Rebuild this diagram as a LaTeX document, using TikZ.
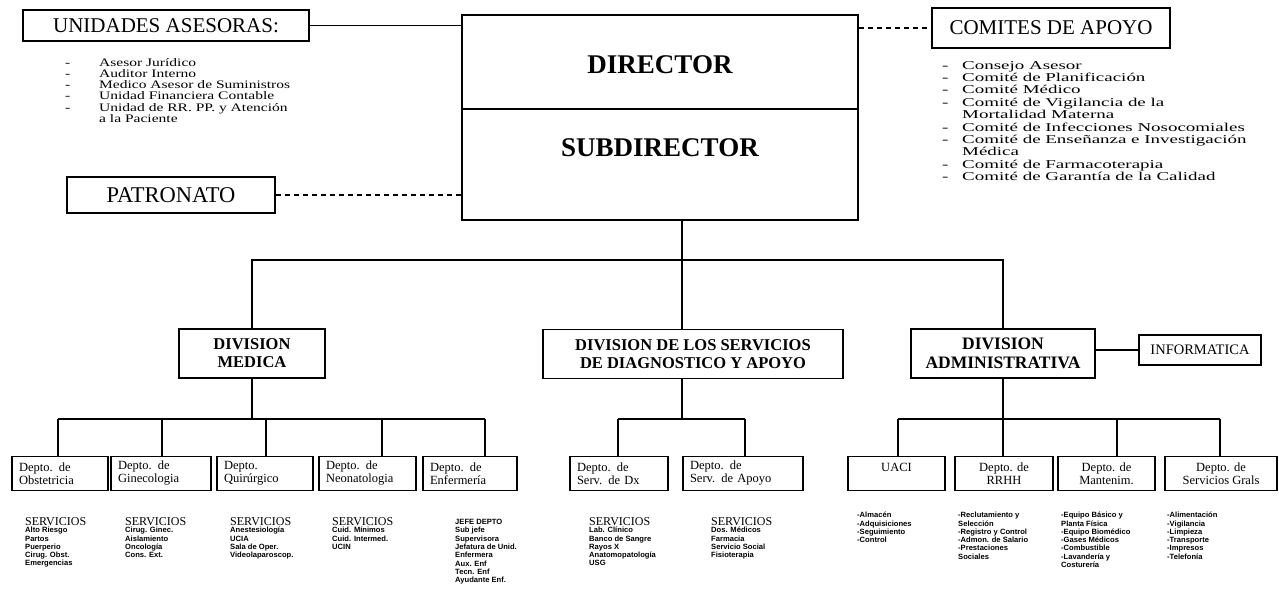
\documentclass[tikz,border=0pt]{standalone}
\usepackage{fontspec}
\setmainfont{Liberation Serif}
\newfontfamily\listA[FakeStretch=1.35]{Liberation Serif}
\newfontfamily\listB[FakeStretch=1.58]{Liberation Serif}
\newfontfamily\itemf{Liberation Sans}
\begin{document}
\begin{tikzpicture}[x=1pt,y=-1pt,
  box/.style={draw, line width=1.2pt, inner sep=0pt, align=center},
  conn/.style={line width=1.6pt},
  dconn/.style={line width=1.4pt, dash pattern=on 5pt off 4pt},
  deptL/.style={box, align=left, inner xsep=7pt, minimum height=34pt, font=\fontsize{12.5}{13}\selectfont},
  deptC/.style={box, minimum height=34pt, font=\fontsize{12.5}{13}\selectfont},
  divbox/.style={box, minimum height=49pt, font=\fontsize{16.5}{18}\selectfont\bfseries},
  topbox/.style={box, font=\fontsize{21}{21}\selectfont},
  bigl/.style={inner sep=0pt, font=\fontsize{27}{27}\selectfont\bfseries},
  svhead/.style={anchor=north west, inner sep=0pt, font=\fontsize{12}{12}\selectfont},
  svlist/.style={anchor=north west, inner sep=0pt, align=left, font=\fontsize{7.6}{8.3}\selectfont\itemf\bfseries},
  lstA/.style={anchor=north west, inner sep=0pt, align=left, font=\fontsize{11.5}{11.2}\selectfont\listA},
  lstB/.style={anchor=north west, inner sep=0pt, align=left, font=\fontsize{12}{12.4}\selectfont\listB},
]
\useasboundingbox (0,0) rectangle (1279,595);

% ---------- top ----------
\node[topbox, minimum width=286pt, minimum height=31pt] (unid) at (166,25.5) {UNIDADES ASESORAS:};
\node[topbox, minimum width=208pt, minimum height=36pt, font=\fontsize{22.5}{22.5}\selectfont] (pat) at (171,195) {PATRONATO};
\node[topbox, minimum width=238pt, minimum height=40pt] (com) at (1051,28) {COMITES DE APOYO};

\node[box, line width=1.4pt, minimum width=396pt, minimum height=94pt] (dirbox) at (660,62) {};
\node[box, line width=1.4pt, minimum width=396pt, minimum height=111pt] (subbox) at (660,164.5) {};
\node[bigl] (dirlbl) at (660,65) {DIRECTOR};
\node[bigl] (sublbl) at (660,148) {SUBDIRECTOR};

\draw[conn] (unid.east) -- (unid.east -| dirbox.west);
\draw[dconn] (pat.east) -- (pat.east -| subbox.west);
\draw[dconn] (com.west -| dirbox.east) -- (com.west);

\node[lstA] (ases) at (65,58) {%
\makebox[34pt][l]{-}Asesor Jurídico\\
\makebox[34pt][l]{-}Auditor Interno\\
\makebox[34pt][l]{-}Medico Asesor de Suministros\\
\makebox[34pt][l]{-}Unidad Financiera Contable\\
\makebox[34pt][l]{-}Unidad de RR. PP. y Atención\\
\makebox[34pt][l]{}a la Paciente};

\node[lstB] (comlist) at (942,61) {%
\makebox[20pt][l]{-}Consejo Asesor\\
\makebox[20pt][l]{-}Comité de Planificación\\
\makebox[20pt][l]{-}Comité Médico\\
\makebox[20pt][l]{-}Comité de Vigilancia de la\\
\makebox[20pt][l]{}Mortalidad Materna\\
\makebox[20pt][l]{-}Comité de Infecciones Nosocomiales\\
\makebox[20pt][l]{-}Comité de Enseñanza e Investigación\\
\makebox[20pt][l]{}Médica\\
\makebox[20pt][l]{-}Comité de Farmacoterapia\\
\makebox[20pt][l]{-}Comité de Garantía de la Calidad};

% ---------- divisions ----------
\node[divbox, minimum width=146pt] (divmed) at (252,353.5) {DIVISION\\MEDICA};
\node[divbox, minimum width=300pt] (divdiag) at (693,354) {DIVISION DE LOS SERVICIOS\\DE DIAGNOSTICO Y APOYO};
\node[divbox, minimum width=184pt, font=\fontsize{17.5}{18.5}\selectfont\bfseries] (divadm) at (1003,353.5) {DIVISION\\ADMINISTRATIVA};
\node[box, minimum width=122pt, minimum height=30pt, font=\fontsize{14.5}{14.5}\selectfont] (info) at (1200,350) {INFORMATICA};

\coordinate (busL) at (252,260);
\coordinate (busM) at (682,260);
\coordinate (busR) at (1003,260);
\draw[conn] (busL |- divmed.north) -- (busL) -- (busR) -- (busR |- divadm.north);
\draw[conn] (busM |- subbox.south) -- (busM |- divdiag.north);
\draw[conn] (info.west -| divadm.east) -- (info.west);

% ---------- departments ----------
\node[deptL, text width=82pt] (obs) at (60,473.5) {Depto. de\\Obstetricia};
\node[deptL, text width=86pt] (gin) at (161,473.5) {Depto. de\\Ginecologia};
\node[deptL, text width=82pt] (qui) at (265,473.5) {Depto.\\Quirúrgico};
\node[deptL, text width=83pt] (neo) at (367.5,473.5) {Depto. de\\Neonatologia};
\node[deptL, text width=80pt] (enf) at (470,473.5) {Depto. de\\Enfermería};
\node[deptL, text width=84pt] (dx) at (619,473.5) {Depto. de\\Serv. de Dx};
\node[deptL, text width=106pt] (apo) at (743,473.5) {Depto. de\\Serv. de Apoyo};
\node[deptC, minimum width=97pt] (uaci) at (896.5,473.5) {UACI\\\mbox{}};
\node[deptC, minimum width=98pt] (rrhh) at (1004,473.5) {Depto. de\\RRHH};
\node[deptC, minimum width=97pt] (mant) at (1106.5,473.5) {Depto. de\\Mantenim.};
\node[deptC, minimum width=112pt] (grals) at (1221,473.5) {Depto. de\\Servicios Grals};

\coordinate (m1) at (58,419);  \coordinate (m2) at (162,419); \coordinate (m3) at (266,419);
\coordinate (m4) at (382,419); \coordinate (m5) at (485,419);
\coordinate (d1) at (618,419); \coordinate (d2) at (745,419);
\coordinate (a1) at (898,419); \coordinate (a2) at (1003,419); \coordinate (a3) at (1117,419); \coordinate (a4) at (1220,419);

\draw[conn] (divmed.south) -- (divmed.south |- m1);
\draw[conn] (m1) -- (m5);
\foreach \c/\n in {m1/obs,m2/gin,m3/qui,m4/neo,m5/enf} \draw[conn] (\c) -- (\c |- \n.north);
\draw[conn] (busM |- divdiag.south) -- (busM |- d1);
\draw[conn] (d1) -- (d2);
\foreach \c/\n in {d1/dx,d2/apo} \draw[conn] (\c) -- (\c |- \n.north);
\draw[conn] (busR |- divadm.south) -- (a2);
\draw[conn] (a1) -- (a4);
\foreach \c/\n in {a1/uaci,a2/rrhh,a3/mant,a4/grals} \draw[conn] (\c) -- (\c |- \n.north);

% ---------- service lists ----------
\node[svhead] (h1) at (25,517) {SERVICIOS};
\node[svlist] (l1) at (25,527) {Alto Riesgo\\Partos\\Puerperio\\Cirug. Obst.\\Emergencias};
\node[svhead] (h2) at (125,517) {SERVICIOS};
\node[svlist] (l2) at (125,527) {Cirug. Ginec.\\Aislamiento\\Oncología\\Cons. Ext.};
\node[svhead] (h3) at (230,517) {SERVICIOS};
\node[svlist] (l3) at (230,527) {Anestesiología\\UCIA\\Sala de Oper.\\Videolaparoscop.};
\node[svhead] (h4) at (332,517) {SERVICIOS};
\node[svlist] (l4) at (332,527) {Cuid. Mínimos\\Cuid. Intermed.\\UCIN};
\node[svlist] (l5) at (455,519) {JEFE DEPTO\\Sub jefe\\Supervisora\\Jefatura de Unid.\\Enfermera\\Aux. Enf\\Tecn. Enf\\Ayudante Enf.};
\node[svhead] (h6) at (589,517) {SERVICIOS};
\node[svlist] (l6) at (589,527) {Lab. Clínico\\Banco de Sangre\\Rayos X\\Anatomopatología\\USG};
\node[svhead] (h7) at (711,517) {SERVICIOS};
\node[svlist] (l7) at (711,527) {Dos. Médicos\\Farmacia\\Servicio Social\\Fisioterapia};
\node[svlist] (l8) at (857,512) {-Almacén\\-Adquisiciones\\-Seguimiento\\-Control};
\node[svlist] (l9) at (958,512) {-Reclutamiento y\\Selección\\-Registro y Control\\-Admon. de Salario\\-Prestaciones\\Sociales};
\node[svlist] (l10) at (1061,512) {-Equipo Básico y\\Planta Física\\-Equipo Biomédico\\-Gases Médicos\\-Combustible\\-Lavandería y\\Costurería};
\node[svlist] (l11) at (1167,512) {-Alimentación\\-Vigilancia\\-Limpieza\\-Transporte\\-Impresos\\-Telefonía};
\end{tikzpicture}
\end{document}
